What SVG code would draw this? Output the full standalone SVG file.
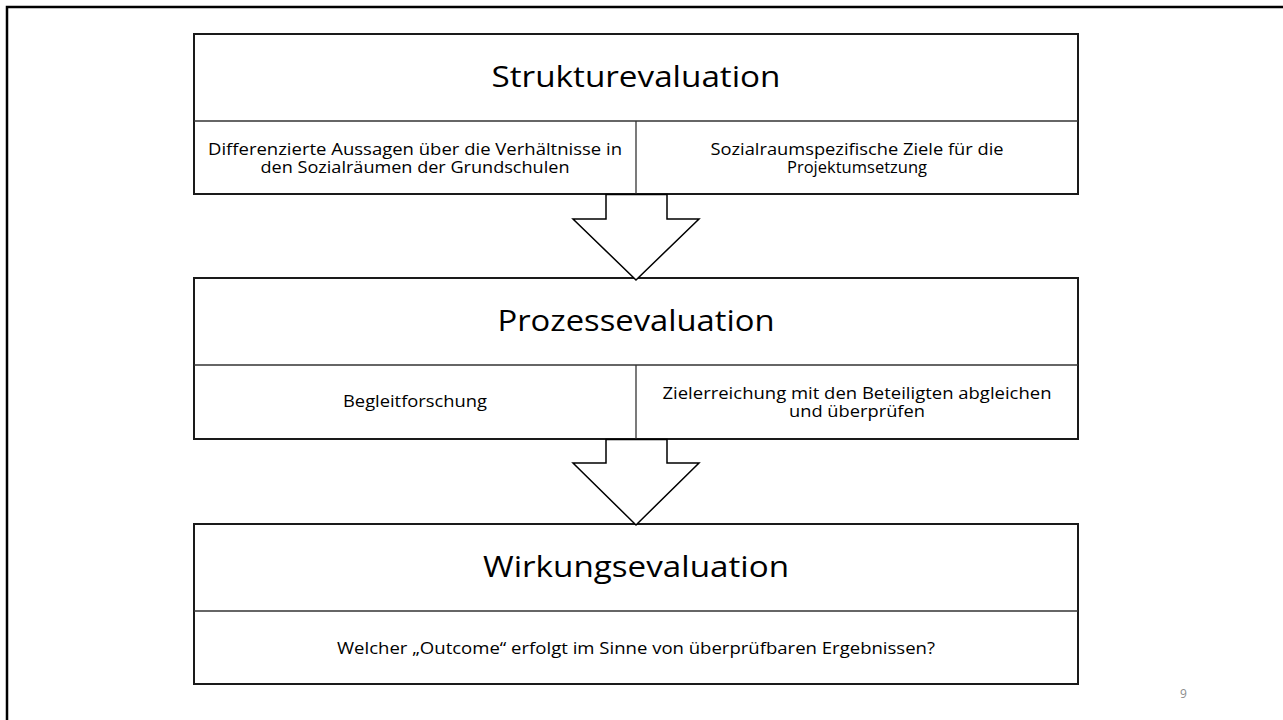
<svg xmlns="http://www.w3.org/2000/svg" width="1283" height="720" viewBox="0 0 1283 720">
  <defs>
    <style>
      .frame { fill: none; stroke: #000; stroke-width: 2.5; }
      .box { fill: #fff; stroke: #1a1a1a; stroke-width: 2; }
      .div { fill: none; stroke: #333; stroke-width: 1.3; }
      .arrow { fill: #fff; stroke: #000; stroke-width: 1.5; stroke-linejoin: miter; }
      .head { font-family: "Open Sans", "Noto Sans", sans-serif; font-size: 30px; fill: #000; text-anchor: middle; }
      .body { font-family: "Open Sans", "Noto Sans", sans-serif; font-size: 17px; fill: #000; text-anchor: middle; }
      .pg { font-family: "Open Sans", "Noto Sans", sans-serif; font-size: 12px; fill: #8c8c8c; }
    </style>
  </defs>

  <rect width="1283" height="720" fill="#fff"/>
  <!-- slide frame -->
  <rect class="frame" x="7" y="7" width="1290" height="730"/>

  <!-- block 1 -->
  <g id="struktur">
    <rect class="box" x="194" y="34" width="884" height="160"/>
    <line class="div" x1="194" y1="121" x2="1078" y2="121"/>
    <line class="div" x1="636" y1="121" x2="636" y2="194"/>
    <text class="head" x="636" y="87" textLength="289" lengthAdjust="spacingAndGlyphs">Strukturevaluation</text>
    <text class="body" x="415" y="155" textLength="414" lengthAdjust="spacingAndGlyphs">Differenzierte Aussagen über die Verhältnisse in</text>
    <text class="body" x="415" y="173" textLength="309" lengthAdjust="spacingAndGlyphs">den Sozialräumen der Grundschulen</text>
    <text class="body" x="857" y="155" textLength="293" lengthAdjust="spacingAndGlyphs">Sozialraumspezifische Ziele für die</text>
    <text class="body" x="857" y="173" textLength="140" lengthAdjust="spacingAndGlyphs">Projektumsetzung</text>
  </g>

  <!-- block 2 -->
  <g id="prozess">
    <rect class="box" x="194" y="278" width="884" height="161"/>
    <line class="div" x1="194" y1="365" x2="1078" y2="365"/>
    <line class="div" x1="636" y1="365" x2="636" y2="439"/>
    <text class="head" x="636" y="331" textLength="277" lengthAdjust="spacingAndGlyphs">Prozessevaluation</text>
    <text class="body" x="415" y="407" textLength="144" lengthAdjust="spacingAndGlyphs">Begleitforschung</text>
    <text class="body" x="857" y="399" textLength="389" lengthAdjust="spacingAndGlyphs">Zielerreichung mit den Beteiligten abgleichen</text>
    <text class="body" x="857" y="417" textLength="136" lengthAdjust="spacingAndGlyphs">und überprüfen</text>
  </g>

  <!-- block 3 -->
  <g id="wirkung">
    <rect class="box" x="194" y="524" width="884" height="160"/>
    <line class="div" x1="194" y1="611" x2="1078" y2="611"/>
    <text class="head" x="636" y="577" textLength="306" lengthAdjust="spacingAndGlyphs">Wirkungsevaluation</text>
    <text class="body" x="636" y="654" textLength="598" lengthAdjust="spacingAndGlyphs">Welcher „Outcome“ erfolgt im Sinne von überprüfbaren Ergebnissen?</text>
  </g>

  <!-- block arrows -->
  <g id="connectors">
    <polygon class="arrow" points="606,194.5 667,194.5 667,219 699,219 636,280 573,219 606,219"/>
    <polygon class="arrow" points="606,439.5 667,439.5 667,463 699,463 636,525 573,463 606,463"/>
  </g>

  <text class="pg" x="1180" y="698">9</text>
</svg>
